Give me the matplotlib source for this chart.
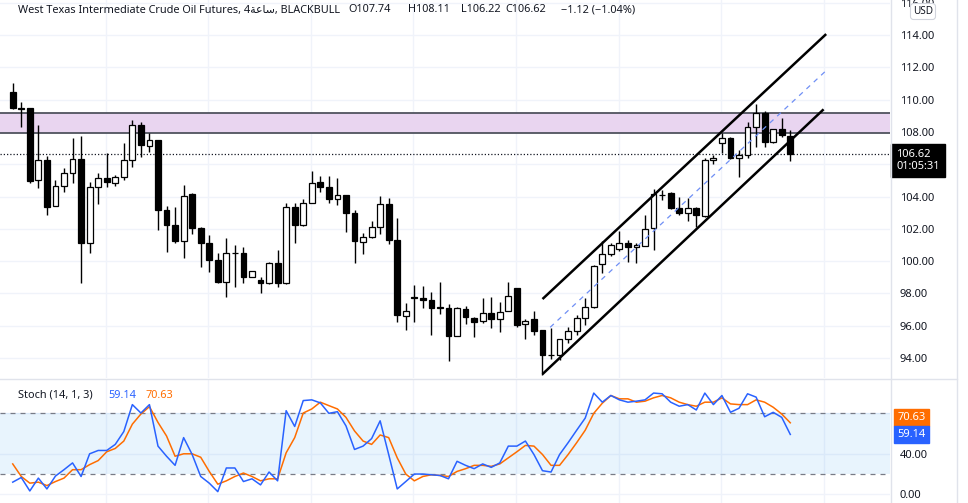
import matplotlib
matplotlib.use("Agg")
import matplotlib.pyplot as plt
import numpy as np
from matplotlib.lines import Line2D

plt.rcParams['font.family'] = ['Noto Sans', 'DejaVu Sans']

W, H = 968, 503

# 4h candles (oldest first)
opens = [110.49, 109.48, 109.46, 105.00, 106.26, 103.41, 104.65, 105.47, 106.30, 101.14,
         104.57, 105.13, 104.86, 105.23, 106.26, 108.43, 107.12, 107.50, 103.16, 102.24,
         101.27, 104.13, 102.07, 101.14, 100.07, 98.73, 100.52, 100.50, 99.03, 98.83,
         98.63, 99.90, 98.63, 103.33, 102.24, 103.60, 104.92, 104.61, 103.83, 104.09,
         103.00, 101.20, 101.50, 102.10, 103.52, 101.31, 96.62, 97.75, 97.73, 97.60,
         97.13, 97.12, 95.38, 97.06, 96.50, 96.30, 96.76, 96.39, 96.93, 98.31,
         96.08, 96.39, 95.73, 94.20, 94.19, 95.16, 95.69, 96.45, 97.13, 99.80,
         100.42, 100.73, 101.10, 100.85, 100.96, 102.02, 104.12, 104.23, 103.27, 102.96,
         103.27, 102.80, 106.24, 107.29, 107.64, 106.40, 106.60, 108.33, 109.20, 107.40,
         108.16, 107.74]
highs = [111.01, 109.87, 109.50, 108.43, 106.51, 105.00, 105.74, 107.60, 107.75, 104.90,
         105.44, 106.67, 105.33, 107.29, 108.74, 108.64, 107.91, 107.50, 103.41, 103.37,
         104.70, 104.23, 102.10, 101.62, 100.52, 101.41, 100.99, 100.90, 99.40, 99.03,
         99.96, 100.68, 103.57, 103.57, 103.87, 105.60, 105.25, 105.27, 105.13, 104.10,
         103.16, 101.76, 102.48, 104.03, 103.89, 102.65, 97.43, 98.52, 98.46, 98.09,
         98.73, 97.33, 97.15, 97.20, 96.55, 97.73, 97.80, 97.45, 98.73, 98.31,
         96.39, 96.90, 95.73, 95.84, 95.20, 95.94, 96.66, 97.69, 99.75, 101.27,
         101.10, 101.86, 101.30, 101.15, 102.85, 104.44, 104.40, 104.25, 103.99, 103.89,
         103.32, 106.36, 106.57, 107.91, 107.66, 106.88, 108.64, 109.73, 109.32, 108.20,
         108.88, 108.11]
lows = [109.40, 108.32, 104.82, 104.51, 102.85, 103.41, 104.30, 104.82, 98.63, 100.48,
        103.54, 104.61, 104.65, 105.00, 105.84, 106.47, 106.78, 101.93, 100.58, 101.10,
        100.17, 101.68, 99.66, 99.30, 98.63, 97.80, 98.42, 98.63, 99.00, 98.00,
        98.60, 98.40, 98.60, 101.10, 102.20, 103.60, 104.30, 103.60, 103.48, 101.82,
        99.86, 100.44, 101.45, 101.68, 101.06, 96.20, 95.73, 96.20, 97.08, 95.42,
        96.72, 93.83, 95.35, 96.10, 95.33, 96.14, 95.83, 95.63, 96.90, 95.93,
        95.17, 95.42, 92.95, 93.92, 93.88, 94.90, 95.43, 96.04, 97.10, 99.24,
        100.30, 100.60, 99.97, 99.90, 100.96, 100.69, 103.80, 103.25, 102.85, 102.51,
        102.14, 102.75, 106.03, 106.67, 106.34, 105.18, 106.36, 107.09, 107.09, 107.30,
        107.70, 106.22]
closes = [109.46, 109.45, 104.96, 106.26, 103.37, 104.65, 105.47, 106.30, 101.14, 104.57,
          105.13, 104.92, 105.23, 106.26, 108.43, 107.19, 107.50, 103.16, 102.24, 101.27,
          104.05, 102.07, 101.14, 100.07, 98.73, 100.52, 100.50, 99.03, 99.40, 98.63,
          99.90, 98.63, 103.33, 102.24, 103.60, 104.86, 104.61, 103.85, 104.09, 103.00,
          101.27, 101.50, 102.13, 103.52, 101.31, 96.66, 96.93, 97.70, 97.60, 97.12,
          97.11, 95.38, 97.12, 96.55, 96.23, 96.80, 96.39, 96.86, 97.84, 96.04,
          96.31, 95.69, 94.19, 94.18, 95.16, 95.69, 96.45, 97.13, 99.72, 100.42,
          100.98, 101.10, 100.85, 101.00, 101.96, 104.13, 104.10, 103.27, 102.96, 103.27,
          102.85, 106.26, 106.40, 107.64, 106.36, 106.60, 108.33, 109.20, 107.40, 108.16,
          107.81, 106.62]

# Stoch (14, 1, 3) lines as drawn
stoch_k = [12, 16.6, 3.3, 16, 5.3, 18, 24.3, 31, 17.6, 40,
           43.3, 43.3, 49.3, 62, 88.6, 80.3, 88.6, 47.6, 37.6, 28.6,
           56, 39.3, 17.6, 11, 2.6, 26, 26, 12.6, 15.3, 9.3,
           22, 13.3, 82.6, 67, 92.6, 93.3, 90.3, 80, 81.6, 67.6,
           44.3, 47.6, 55, 72.6, 39.3, 5.3, 12.6, 20, 20, 19.3,
           18.6, 15.3, 32.6, 28.6, 25.3, 30, 26.6, 31, 47.6, 47.6,
           52.6, 39.3, 23.3, 22, 39.3, 51, 63.3, 75.3, 100, 91,
           97.6, 93.3, 91, 92, 93.3, 100, 99.3, 91, 87, 88.6,
           83.3, 100, 88.6, 97.6, 81, 85, 99.3, 96, 76.6, 81,
           76, 59.14]
stoch_d = [30, 17.6, 11, 12, 8.6, 12.6, 16, 24.3, 24.3, 29.3,
           33.3, 42, 45.3, 52.6, 69.3, 79.3, 86.6, 71, 57.6, 37.6,
           40, 40, 36.6, 22.6, 10, 13.3, 17.6, 21, 17.6, 13.3,
           15.3, 15.3, 41, 56, 80.3, 84.3, 91, 87.6, 84.3, 76,
           62.6, 52.6, 49.3, 58.6, 56, 36, 20, 13.3, 17.6, 19.3,
           18.6, 17.6, 22.6, 25.3, 28.6, 28.6, 27.6, 30, 36, 42,
           48.3, 47.6, 39.3, 28.6, 28.6, 39.3, 51, 63.3, 80, 90,
           97.6, 94.3, 94.3, 91, 92, 95.3, 97.6, 95.3, 91, 88.6,
           87, 91, 91, 95.3, 89.3, 88.6, 88.6, 93.3, 91, 86,
           79.3, 70.63]

price_ticks = [94, 96, 98, 100, 102, 104, 106, 108, 110, 112, 114, 116]
hidden_ticks = [106]          # covered by the last-price label on the chart
stoch_ticks = [0, 40, 80]
last_price = 106.62
countdown = "01:05:31"
zone = (107.95, 109.20)
chan_upper = ([62.0, 95.2], [97.65, 114.06])
chan_lower = ([62.0, 94.9], [93.00, 109.40])
chan_mid = ([62.9, 95.2], [95.90, 111.80])
grid_x = [10.9 + 12 * k for k in range(8)]

title = "West Texas Intermediate Crude Oil Futures, 4\ufe94\ufecb\ufe8e\ufeb3, BLACKBULL"
ohlc_text = [("O107.74", 348), ("H108.11", 408), ("L106.22", 461), ("C106.62", 505),
             ("\u22121.12 (\u22121.04%)", 561)]

TXT = '#131722'
GRID = '#f0f3fa'
K_COL = '#2962ff'
D_COL = '#ff6d00'


def fx(px):
    return px / W


def fy(py):
    return 1 - py / H


fig = plt.figure(figsize=(W / 100, H / 100), dpi=100)
ax = fig.add_axes([0, fy(378), fx(890), 378 / H])
ax2 = fig.add_axes([0, 0, fx(890), 124 / H])

x = np.arange(len(opens))
o = np.array(opens)
c = np.array(closes)
up = c >= o

ax.axhspan(zone[0], zone[1], color='#e9d5f0', lw=0, zorder=1)
for lvl in zone:
    ax.axhline(lvl, color='#50535e', lw=1.3, zorder=2)

ax.vlines(x, lows, highs, color='black', lw=1, zorder=3)
body = c - o
body = np.where(np.abs(body) < 0.04, np.where(up, 0.04, -0.04), body)
ax.bar(x, body, bottom=o, width=0.68, color=np.where(up, 'white', 'black'),
       edgecolor='black', linewidth=0.9, zorder=4)

ax.axhline(last_price, color=TXT, lw=0.9, ls=(0, (1, 1.6)), zorder=2)

ax.plot(*chan_upper, color='black', lw=1.8, zorder=5, solid_capstyle='butt')
ax.plot(*chan_lower, color='black', lw=1.8, zorder=5, solid_capstyle='butt')
ax.plot(*chan_mid, color='#6f8ff5', lw=0.9, ls=(0, (4, 4)), zorder=5)

ax.set_xlim(-1.49, 102.67)
ax.set_ylim(92.76, 116.17)

ax2.axhspan(20, 80, color='#2196f3', alpha=0.1, lw=0)
for lvl in (20, 80):
    ax2.axhline(lvl, color='#787b86', lw=0.9, ls=(0, (4, 4)))
ax2.plot(x, stoch_k, color=K_COL, lw=1.1, zorder=4)
ax2.plot(x, stoch_d, color=D_COL, lw=1.1, zorder=3)
ax2.set_xlim(-1.49, 102.67)
ax2.set_ylim(-8.6, 113.9)

for a, ticks in ((ax, price_ticks), (ax2, stoch_ticks)):
    a.yaxis.tick_right()
    a.set_yticks(ticks)
    a.set_yticklabels(["" if t in hidden_ticks and a is ax else f"{t:.2f}" for t in ticks])
    a.set_xticks(grid_x)
    a.tick_params(axis='x', length=0, labelbottom=False)
    a.tick_params(axis='y', length=0, pad=7, labelsize=8, labelcolor=TXT)
    a.grid(color=GRID, lw=1, zorder=0)
    a.set_axisbelow(True)
    for s in a.spines.values():
        s.set_visible(False)

# price axis / pane separators
fig.add_artist(Line2D([fx(890.5), fx(890.5)], [0, 1], color='#e0e3eb', lw=1))
fig.add_artist(Line2D([fx(957), fx(957)], [0, 1], color='#e0e3eb', lw=1))
fig.add_artist(Line2D([0, fx(957)], [fy(378.5), fy(378.5)], color='#e0e3eb', lw=1))

# last price label
ax.annotate(f"{last_price:.2f}\n{countdown}", xy=(1, last_price),
            xycoords=('axes fraction', 'data'), xytext=(4.6, -4.6), textcoords='offset points',
            va='center', ha='left', color='white', fontsize=8, fontweight='bold',
            linespacing=1.05, annotation_clip=False, zorder=10,
            bbox=dict(boxstyle='square,pad=0.45', fc='black', ec='black'))

# stoch value labels
ax2.annotate(f"{stoch_d[-1]:.2f}", xy=(1, stoch_d[-1]), xycoords=('axes fraction', 'data'),
             xytext=(5.5, 3.9), textcoords='offset points', va='center', ha='left',
             color='white', fontsize=8, fontweight='bold', annotation_clip=False, zorder=10,
             bbox=dict(boxstyle='square,pad=0.3', fc=D_COL, ec=D_COL))
ax2.annotate(f"{stoch_k[-1]:.2f}", xy=(1, stoch_k[-1]), xycoords=('axes fraction', 'data'),
             xytext=(5.5, 0), textcoords='offset points', va='center', ha='left',
             color='white', fontsize=8, fontweight='bold', annotation_clip=False, zorder=10,
             bbox=dict(boxstyle='square,pad=0.3', fc=K_COL, ec=K_COL))

fig.text(fx(923), fy(11.5), "USD", ha='center', va='center', fontsize=7.2, color=TXT, zorder=10,
         bbox=dict(boxstyle='round,pad=0.25,rounding_size=0.3', fc='white', ec='#d1d4dc', lw=0.8))

fig.text(fx(18), fy(10), title, ha='left', va='center', fontsize=7.85, color=TXT)
for s, px in ohlc_text:
    fig.text(fx(px), fy(10), s, ha='left', va='center', fontsize=7.85, color=TXT)

fig.text(fx(18), fy(395), "Stoch (14, 1, 3)", ha='left', va='center', fontsize=7.85, color=TXT)
fig.text(fx(108), fy(395), f"{stoch_k[-1]:.2f}", ha='left', va='center', fontsize=7.85, color=K_COL)
fig.text(fx(145), fy(395), f"{stoch_d[-1]:.2f}", ha='left', va='center', fontsize=7.85, color=D_COL)

fig.savefig("out.png", dpi=100, facecolor='white')
